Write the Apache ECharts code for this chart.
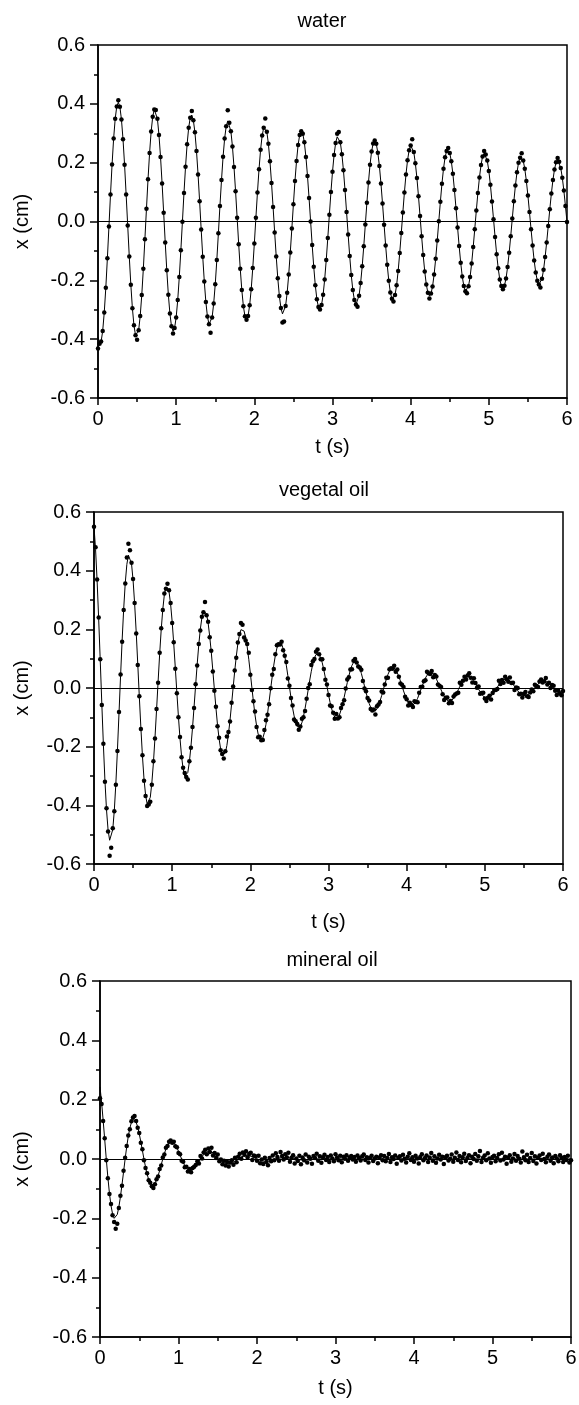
<!DOCTYPE html>
<html><head><meta charset="utf-8">
<script src="https://cdn.jsdelivr.net/npm/echarts@6/dist/echarts.min.js"></script>
<style>html,body{margin:0;padding:0;background:#fff}#chart{width:579px;height:1405px}</style>
</head><body><div id="chart"></div>
<script>
// ---------- data ----------
const panelTitles = ['water', 'vegetal oil', 'mineral oil'];
const xAxisTitle = 't (s)';
const yAxisTitle = 'x (cm)';
const xTickLabels = ['0', '1', '2', '3', '4', '5', '6'];
const yTickLabels = ['-0.6', '-0.4', '-0.2', '0.0', '0.2', '0.4', '0.6'];
const sampleStep = 0.02; // s between recorded frames

const waterFit = [
-0.392,-0.416,-0.408,-0.372,-0.309,-0.225,-0.125,-0.017,0.092,0.194,
0.282,0.349,0.391,0.405,0.390,0.347,0.280,0.193,0.092,-0.014,
-0.119,-0.215,-0.295,-0.353,-0.387,-0.393,-0.370,-0.321,-0.250,-0.161,
-0.060,0.043,0.144,0.233,0.306,0.356,0.381,0.379,0.349,0.294,
0.219,0.129,0.030,-0.071,-0.166,-0.249,-0.313,-0.356,-0.373,-0.362,
-0.326,-0.267,-0.189,-0.098,-0.001,0.097,0.186,0.263,0.319,0.353,
0.362,0.344,0.303,0.240,0.160,0.069,-0.027,-0.120,-0.204,-0.274,
-0.323,-0.349,-0.350,-0.326,-0.279,-0.213,-0.131,-0.040,0.053,0.141,
0.220,0.282,0.324,0.342,0.336,0.307,0.255,0.185,0.103,0.013,
-0.077,-0.161,-0.233,-0.288,-0.322,-0.334,-0.321,-0.285,-0.230,-0.158,
-0.075,0.013,0.099,0.178,0.244,0.292,0.319,0.323,0.305,0.264,
0.205,0.131,0.049,-0.037,-0.119,-0.193,-0.253,-0.294,-0.314,-0.311,
-0.287,-0.242,-0.180,-0.105,-0.024,0.059,0.138,0.206,0.260,0.294,
0.307,0.298,0.269,0.219,0.155,0.080,0.000,-0.080,-0.154,-0.217,
-0.264,-0.291,-0.299,-0.284,-0.249,-0.197,-0.131,-0.056,0.023,0.100,
0.169,0.226,0.267,0.288,0.288,0.269,0.229,0.174,0.107,0.032,
-0.044,-0.117,-0.182,-0.233,-0.267,-0.282,-0.277,-0.252,-0.209,-0.152,
-0.084,-0.010,0.064,0.133,0.193,0.238,0.265,0.275,0.264,0.234,
0.189,0.129,0.061,-0.011,-0.082,-0.147,-0.201,-0.241,-0.263,-0.266,
-0.250,-0.217,-0.168,-0.107,-0.039,0.031,0.099,0.160,0.208,0.242,
0.258,0.256,0.236,0.198,0.148,0.086,0.019,-0.050,-0.114,-0.170,
-0.214,-0.242,-0.253,-0.245,-0.221,-0.180,-0.127,-0.065,0.001,0.067,
0.128,0.179,0.218,0.240,0.246,0.233,0.205,0.162,0.107,0.045,
-0.020,-0.083,-0.140,-0.187,-0.219,-0.237,-0.237,-0.220,-0.189,-0.143,
-0.087,-0.026,0.037,0.097,0.150,0.192,0.221,0.232,0.228,0.207,
0.172,0.125,0.068,0.008,-0.053,-0.111,-0.159,-0.197,-0.219,-0.227,
-0.218,-0.194,-0.155,-0.106,-0.050,0.010,0.069,0.122,0.167,0.200,
0.217,0.220,0.207,0.179,0.138,0.088,0.032,-0.026,-0.082,-0.133,
-0.173,-0.201,-0.214,-0.212,-0.195,-0.164,-0.121,-0.071,-0.015,0.042,
0.095,0.141,0.177,0.201,0.209,0.203,0.182,0.149,0.105,0.053,
-0.002];

const waterDots = [
-0.432,-0.416,-0.408,-0.372,-0.309,-0.225,-0.125,-0.017,0.092,0.194,
0.282,0.349,0.391,0.412,0.390,0.347,0.280,0.193,0.092,-0.014,
-0.119,-0.215,-0.295,-0.353,-0.387,-0.402,-0.370,-0.321,-0.250,-0.161,
-0.060,0.043,0.144,0.233,0.306,0.356,0.381,0.379,0.349,0.294,
0.219,0.129,0.030,-0.071,-0.166,-0.249,-0.313,-0.356,-0.381,-0.362,
-0.326,-0.267,-0.189,-0.098,-0.001,0.097,0.186,0.263,0.319,0.353,
0.376,0.344,0.303,0.240,0.160,0.069,-0.027,-0.120,-0.204,-0.274,
-0.323,-0.349,-0.378,-0.326,-0.279,-0.213,-0.131,-0.040,0.053,0.141,
0.220,0.282,0.324,0.378,0.336,0.307,0.255,0.185,0.103,0.013,
-0.077,-0.161,-0.233,-0.288,-0.322,-0.334,-0.321,-0.285,-0.230,-0.158,
-0.075,0.013,0.099,0.178,0.244,0.292,0.319,0.350,0.305,0.264,
0.205,0.131,0.049,-0.037,-0.119,-0.193,-0.253,-0.294,-0.343,-0.340,
-0.287,-0.242,-0.180,-0.105,-0.024,0.059,0.138,0.206,0.260,0.294,
0.307,0.298,0.269,0.219,0.155,0.080,0.000,-0.080,-0.154,-0.217,
-0.264,-0.291,-0.299,-0.284,-0.249,-0.197,-0.131,-0.056,0.023,0.100,
0.169,0.226,0.267,0.298,0.304,0.269,0.229,0.174,0.107,0.032,
-0.044,-0.117,-0.182,-0.233,-0.267,-0.282,-0.290,-0.252,-0.209,-0.152,
-0.084,-0.010,0.064,0.133,0.193,0.238,0.265,0.275,0.264,0.234,
0.189,0.129,0.061,-0.011,-0.082,-0.147,-0.201,-0.241,-0.263,-0.272,
-0.250,-0.217,-0.168,-0.107,-0.039,0.031,0.099,0.160,0.208,0.242,
0.258,0.280,0.236,0.198,0.148,0.086,0.019,-0.050,-0.114,-0.170,
-0.214,-0.242,-0.262,-0.245,-0.221,-0.180,-0.127,-0.065,0.001,0.067,
0.128,0.179,0.218,0.240,0.250,0.233,0.205,0.162,0.107,0.045,
-0.020,-0.083,-0.140,-0.187,-0.219,-0.237,-0.244,-0.220,-0.189,-0.143,
-0.087,-0.026,0.037,0.097,0.150,0.192,0.221,0.240,0.228,0.207,
0.172,0.125,0.068,0.008,-0.053,-0.111,-0.159,-0.197,-0.219,-0.230,
-0.218,-0.194,-0.155,-0.106,-0.050,0.010,0.069,0.122,0.167,0.200,
0.217,0.232,0.207,0.179,0.138,0.088,0.032,-0.026,-0.082,-0.133,
-0.173,-0.201,-0.214,-0.224,-0.195,-0.164,-0.121,-0.071,-0.015,0.042,
0.095,0.141,0.177,0.201,0.216,0.203,0.182,0.149,0.105,0.053,
-0.002];

const vegetalFit = [
0.550,0.472,0.364,0.234,0.092,-0.054,-0.193,-0.316,-0.415,-0.484,
-0.519,-0.519,-0.483,-0.417,-0.324,-0.211,-0.086,0.041,0.163,0.271,
0.359,0.421,0.453,0.454,0.424,0.367,0.287,0.190,0.081,-0.031,
-0.137,-0.233,-0.311,-0.365,-0.395,-0.397,-0.373,-0.324,-0.255,-0.170,
-0.076,0.022,0.116,0.200,0.268,0.318,0.344,0.348,0.328,0.286,
0.226,0.152,0.070,-0.015,-0.097,-0.171,-0.232,-0.276,-0.300,-0.305,
-0.288,-0.252,-0.200,-0.137,-0.065,0.009,0.081,0.146,0.200,0.239,
0.262,0.266,0.252,0.222,0.177,0.123,0.060,-0.005,-0.068,-0.126,
-0.173,-0.208,-0.229,-0.233,-0.221,-0.196,-0.157,-0.110,-0.055,0.001,
0.057,0.107,0.150,0.180,0.199,0.204,0.194,0.173,0.140,0.098,
0.051,0.001,-0.048,-0.092,-0.129,-0.157,-0.173,-0.178,-0.171,-0.152,
-0.124,-0.088,-0.046,-0.003,0.039,0.078,0.111,0.136,0.151,0.155,
0.150,0.134,0.109,0.078,0.042,0.005,-0.033,-0.067,-0.095,-0.118,
-0.132,-0.136,-0.131,-0.118,-0.096,-0.070,-0.039,-0.006,0.027,0.057,
0.083,0.102,0.114,0.119,0.114,0.103,0.086,0.062,0.035,0.006,
-0.022,-0.049,-0.071,-0.088,-0.099,-0.104,-0.101,-0.092,-0.075,-0.055,
-0.032,-0.007,0.018,0.041,0.061,0.077,0.087,0.091,0.088,0.080,
0.067,0.050,0.029,0.007,-0.015,-0.035,-0.053,-0.066,-0.075,-0.080,
-0.078,-0.071,-0.059,-0.044,-0.026,-0.007,0.012,0.030,0.046,0.058,
0.065,0.069,0.068,0.062,0.052,0.039,0.024,0.007,-0.010,-0.025,
-0.039,-0.050,-0.057,-0.061,-0.059,-0.054,-0.046,-0.035,-0.021,-0.007,
0.008,0.021,0.034,0.043,0.050,0.053,0.052,0.048,0.041,0.031,
0.019,0.007,-0.006,-0.018,-0.029,-0.037,-0.043,-0.046,-0.046,-0.042,
-0.036,-0.027,-0.018,-0.006,0.005,0.015,0.025,0.032,0.037,0.040,
0.040,0.037,0.032,0.025,0.016,0.006,-0.004,-0.013,-0.021,-0.028,
-0.033,-0.035,-0.035,-0.032,-0.028,-0.022,-0.014,-0.006,0.003,0.011,
0.018,0.024,0.028,0.030,0.030,0.028,0.025,0.019,0.013,0.005,
-0.002,-0.009,-0.016,-0.021,-0.024,-0.026,-0.027,-0.025,-0.022,-0.017,
-0.012,-0.005,0.001,0.008,0.014,0.018,0.021,0.023,0.023,0.022,
0.019,0.015,0.010,0.005,-0.001,-0.007,-0.011,-0.015,-0.019,-0.020,
-0.021];

const vegetalDots = [
0.550,0.480,0.370,0.240,0.098,-0.058,-0.190,-0.320,-0.410,-0.489,
-0.572,-0.545,-0.478,-0.420,-0.330,-0.215,-0.082,0.046,0.158,0.266,
0.356,0.445,0.492,0.470,0.427,0.372,0.290,0.186,0.078,-0.028,
-0.140,-0.229,-0.316,-0.368,-0.402,-0.397,-0.388,-0.330,-0.250,-0.172,
-0.072,0.018,0.120,0.204,0.266,0.322,0.338,0.355,0.333,0.290,
0.222,0.156,0.066,-0.018,-0.100,-0.167,-0.236,-0.272,-0.290,-0.303,
-0.312,-0.250,-0.204,-0.133,-0.068,0.013,0.077,0.150,0.196,0.243,
0.258,0.293,0.248,0.226,0.173,0.127,0.056,-0.009,-0.064,-0.130,
-0.170,-0.212,-0.225,-0.240,-0.216,-0.165,-0.150,-0.114,-0.050,0.005,
0.060,0.103,0.155,0.184,0.222,0.216,0.172,0.162,0.150,0.120,
0.045,-0.007,-0.045,-0.080,-0.133,-0.168,-0.166,-0.178,-0.177,-0.143,
-0.110,-0.091,-0.055,-0.001,0.045,0.065,0.115,0.146,0.149,0.148,
0.158,0.129,0.110,0.089,0.032,0.008,-0.034,-0.060,-0.107,-0.113,
-0.123,-0.142,-0.131,-0.105,-0.100,-0.078,-0.037,0.000,0.013,0.078,
0.091,0.099,0.124,0.131,0.115,0.098,0.098,0.065,0.028,0.012,
-0.024,-0.060,-0.062,-0.084,-0.105,-0.089,-0.104,-0.100,-0.068,-0.055,
-0.042,-0.002,0.029,0.037,0.063,0.064,0.093,0.099,0.087,0.073,
0.070,0.062,0.024,-0.002,-0.011,-0.034,-0.043,-0.072,-0.077,-0.073,
-0.090,-0.062,-0.056,-0.048,-0.012,-0.015,0.012,0.035,0.035,0.064,
0.067,0.066,0.076,0.055,0.063,0.038,0.015,0.011,0.003,-0.030,
-0.038,-0.060,-0.050,-0.058,-0.065,-0.045,-0.048,-0.049,-0.016,0.003,
0.004,0.023,0.026,0.055,0.050,0.048,0.058,0.037,0.044,0.039,
0.012,0.008,0.003,-0.021,-0.041,-0.033,-0.032,-0.052,-0.044,-0.051,
-0.029,-0.022,-0.019,-0.016,0.018,0.011,0.025,0.038,0.029,0.043,
0.050,0.035,0.019,0.033,0.017,0.001,0.005,-0.020,-0.017,-0.016,
-0.036,-0.044,-0.033,-0.026,-0.039,-0.017,-0.007,-0.007,-0.003,0.025,
0.014,0.027,0.018,0.038,0.030,0.021,0.036,0.017,0.018,-0.007,
0.002,0.000,-0.021,-0.020,-0.032,-0.020,-0.014,-0.028,-0.031,-0.015,
-0.005,-0.011,0.011,0.007,0.003,0.022,0.029,0.019,0.023,0.034,
0.012,0.018,0.000,0.010,0.008,-0.009,-0.024,-0.009,-0.018,-0.025,
-0.010];

const mineralFit = [
0.243,0.192,0.131,0.066,0.000,-0.061,-0.115,-0.157,-0.185,-0.200,
-0.200,-0.187,-0.162,-0.128,-0.087,-0.044,0.000,0.041,0.076,0.104,
0.123,0.133,0.133,0.124,0.108,0.085,0.058,0.029,0.000,-0.027,
-0.051,-0.069,-0.082,-0.088,-0.088,-0.083,-0.072,-0.056,-0.039,-0.019,
0.000,0.018,0.034,0.046,0.054,0.059,0.059,0.055,0.048,0.038,
0.026,0.013,0.000,-0.012,-0.022,-0.031,-0.036,-0.039,-0.039,-0.037,
-0.032,-0.025,-0.017,-0.009,0.000,0.008,0.015,0.020,0.024,0.026,
0.026,0.024,0.021,0.017,0.011,0.006,0.000,-0.005,-0.010,-0.014,
-0.016,-0.017,-0.017,-0.016,-0.014,-0.011,-0.008,-0.004,0.000,0.004,
0.007,0.009,0.011,0.011,0.011,0.011,0.009,0.007,0.005,0.003,
0.000,-0.002,-0.004,-0.006,-0.007,-0.008,-0.008,-0.007,-0.006,-0.005,
-0.003,-0.002,0.000,0.001,0.003,0.004,0.004,0.005,0.005,0.005,
0.004,0.003,0.002,0.001,0.000,-0.001,-0.002,-0.002,-0.003,-0.003,
-0.003,-0.003,-0.003,-0.002,-0.001,-0.001,0,0,0,0,
0,0,0,0,0,0,0,0,0,0,
0,0,0,0,0,0,0,0,0,0,
0,0,0,0,0,0,0,0,0,0,
0,0,0,0,0,0,0,0,0,0,
0,0,0,0,0,0,0,0,0,0,
0,0,0,0,0,0,0,0,0,0,
0,0,0,0,0,0,0,0,0,0,
0,0,0,0,0,0,0,0,0,0,
0,0,0,0,0,0,0,0,0,0,
0,0,0,0,0,0,0,0,0,0,
0,0,0,0,0,0,0,0,0,0,
0,0,0,0,0,0,0,0,0,0,
0,0,0,0,0,0,0,0,0,0,
0,0,0,0,0,0,0,0,0,0,
0,0,0,0,0,0,0,0,0,0,
0,0,0,0,0,0,0,0,0,0,
0];

const mineralDots = [
0.205,0.185,0.128,0.070,-0.004,-0.065,-0.118,-0.152,-0.190,-0.212,
-0.235,-0.218,-0.165,-0.124,-0.090,-0.040,0.004,0.044,0.079,0.100,
0.127,0.140,0.145,0.128,0.105,0.088,0.055,0.033,-0.004,-0.030,
-0.048,-0.072,-0.080,-0.092,-0.098,-0.085,-0.068,-0.059,-0.034,-0.022,
0.005,0.015,0.038,0.044,0.058,0.062,0.055,0.058,0.043,0.040,
0.020,0.016,-0.006,-0.009,-0.028,-0.026,-0.042,-0.034,-0.045,-0.030,
-0.026,-0.020,-0.008,-0.015,0.010,0.002,0.022,0.031,0.016,0.035,
0.024,0.038,0.012,0.020,0.003,0.015,-0.008,-0.002,-0.018,-0.006,
-0.022,-0.010,-0.025,-0.012,-0.004,-0.019,0.004,-0.011,0.008,0.018,
0.001,0.022,0.014,0.026,0.005,0.017,0.021,-0.003,0.012,0.009,
-0.006,0.011,-0.014,-0.002,-0.017,0.004,-0.010,-0.021,0.003,-0.008,
0.012,-0.004,0.019,0.007,-0.006,0.024,0.010,-0.002,0.016,0.006,
0.021,-0.009,0.004,0.013,-0.015,0.002,-0.007,0.011,-0.018,0.005,
-0.004,0.015,-0.012,0.008,0.001,-0.016,0.010,0.003,0.018,-0.006,
0.009,-0.013,0.006,0.014,-0.003,0.007,-0.010,0.012,0.002,-0.008,
0.016,0.005,-0.004,0.011,-0.011,0.008,0.001,0.013,-0.006,0.004,
0.010,-0.002,0.007,-0.009,0.012,0.003,-0.005,0.009,0.015,-0.003,
0.006,-0.012,0.004,0.011,-0.007,0.002,0.008,-0.014,0.005,0.013,
-0.004,0.010,-0.008,0.003,0.017,-0.010,0.006,0.000,0.012,-0.016,
0.004,0.009,-0.005,0.014,0.001,-0.012,0.008,0.019,-0.003,0.006,
-0.009,0.011,0.002,-0.015,0.007,0.016,-0.004,0.003,0.012,-0.010,
0.005,0.020,-0.006,0.009,-0.013,0.002,0.014,-0.002,0.008,-0.017,
0.006,0.011,-0.005,0.001,0.015,-0.009,0.004,0.022,-0.003,0.010,
-0.011,0.006,0.018,-0.007,0.003,0.013,-0.014,0.008,0.000,0.017,
-0.006,0.009,0.027,-0.010,0.004,0.012,-0.004,0.019,0.002,-0.013,
0.007,0.011,-0.008,0.003,0.016,-0.005,0.021,-0.002,0.008,-0.016,
0.005,0.013,-0.009,0.002,0.017,-0.006,0.010,0.001,-0.012,0.025,
0.006,-0.004,0.014,-0.010,0.003,0.020,-0.007,0.009,-0.015,0.004,
0.012,-0.003,0.018,0.000,-0.011,0.008,0.015,-0.006,0.005,-0.014,
0.010,0.002,-0.008,0.013,0.004,-0.010,0.007,-0.003,0.011,-0.012,
-0.004];

// ---------- chart ----------
const FONT = 'Liberation Sans, Arial, Helvetica, sans-serif';
const panels = [
  {fit: waterFit, dots: waterDots, grid: {left: 98, top: 45, width: 469, height: 353}, titleX: 322, titleTop: 11, xGap: 39, yGap: 66},
  {fit: vegetalFit, dots: vegetalDots, grid: {left: 94, top: 512, width: 469, height: 352}, titleX: 324, titleTop: 480, xGap: 48, yGap: 62},
  {fit: mineralFit, dots: mineralDots, grid: {left: 100, top: 981, width: 471, height: 356}, titleX: 332, titleTop: 950, xGap: 41, yGap: 68}
];
const toPairs = arr => arr.map((v, i) => [+(i * sampleStep).toFixed(2), v]);

const option = {
  animation: false,
  backgroundColor: '#fff',
  title: panels.map((p, i) => ({
    text: panelTitles[i], left: p.titleX, top: p.titleTop, textAlign: 'center', padding: 0,
    textStyle: {fontFamily: FONT, fontSize: 20, fontWeight: 'normal', color: '#000'}
  })),
  grid: panels.map(p => Object.assign({show: true, borderColor: '#000', borderWidth: 1.5, backgroundColor: 'transparent', containLabel: false, outerBoundsMode: 'none'}, p.grid)),
  xAxis: panels.map((p, i) => ({
    type: 'value', gridIndex: i, min: 0, max: 6, interval: 1,
    name: xAxisTitle, nameLocation: 'middle', nameGap: p.xGap,
    nameTextStyle: {fontFamily: FONT, fontSize: 20, color: '#000'},
    axisLine: {show: true, onZero: false, lineStyle: {color: '#000', width: 1.5}},
    axisTick: {show: true, length: 7, inside: false, lineStyle: {color: '#000', width: 1.5}},
    minorTick: {show: true, splitNumber: 2, length: 4, lineStyle: {color: '#000', width: 1.5}},
    splitLine: {show: false}, minorSplitLine: {show: false},
    axisLabel: {fontFamily: FONT, fontSize: 20, color: '#000', margin: 11,
      formatter: v => xTickLabels[Math.round(v)]}
  })),
  yAxis: panels.map((p, i) => ({
    type: 'value', gridIndex: i, min: -0.6, max: 0.6, interval: 0.2,
    name: yAxisTitle, nameLocation: 'middle', nameGap: p.yGap,
    nameTextStyle: {fontFamily: FONT, fontSize: 20, color: '#000'},
    axisLine: {show: true, onZero: false, lineStyle: {color: '#000', width: 1.5}},
    axisTick: {show: true, length: 8, inside: false, lineStyle: {color: '#000', width: 1.5}},
    minorTick: {show: true, splitNumber: 2, length: 4, lineStyle: {color: '#000', width: 1.5}},
    splitLine: {show: false}, minorSplitLine: {show: false},
    axisLabel: {fontFamily: FONT, fontSize: 20, color: '#000', margin: 13,
      formatter: v => yTickLabels[Math.round((v + 0.6) / 0.2)]}
  })),
  series: panels.flatMap((p, i) => [
    {
      type: 'line', xAxisIndex: i, yAxisIndex: i, data: toPairs(p.fit),
      showSymbol: false, symbol: 'none', smooth: false, z: 2,
      lineStyle: {color: '#000', width: 1}, silent: true,
      markLine: {silent: true, symbol: 'none', label: {show: false}, animation: false,
        lineStyle: {color: '#000', width: 1, type: 'solid'}, data: [{yAxis: 0}]}
    },
    {
      type: 'scatter', xAxisIndex: i, yAxisIndex: i, data: toPairs(p.dots),
      symbol: 'circle', symbolSize: 4.5, z: 3, silent: true,
      itemStyle: {color: '#000', opacity: 1}
    }
  ])
};
const chart = echarts.init(document.getElementById('chart'), null, {renderer: 'canvas'});
chart.setOption(option);
</script>
</body></html>
